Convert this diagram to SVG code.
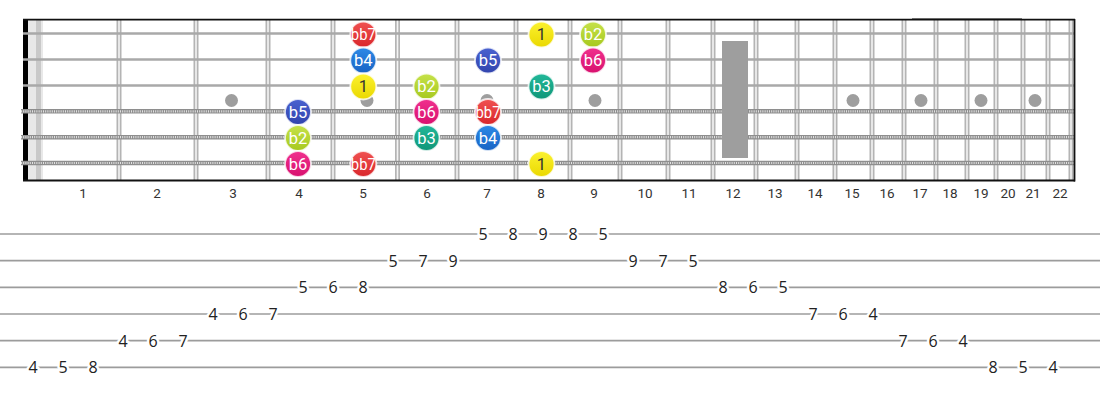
<svg xmlns="http://www.w3.org/2000/svg" width="1100" height="400" viewBox="0 0 1100 400">
<defs>
<style>
.fo{stroke:#b4b4b4;stroke-width:5}
.fi{stroke:#f4f4f4;stroke-width:1.6}
.ps{stroke:#a9a9a9;stroke-width:2.6}
.wb{stroke:#8e8e8e;stroke-width:4.6}
.wt{stroke:#e2e2e2;stroke-width:2.2;stroke-dasharray:1 1.2}
.inlay{fill:#9e9e9e}
.fn{font-family:Roboto,"Liberation Sans",sans-serif;font-size:13.5px;fill:#333;text-anchor:middle}
.tl{stroke:#9c9c9c;stroke-width:1.7}
.td{font-family:"Open Sans","Liberation Sans",sans-serif;font-size:16px;fill:#222;text-anchor:middle;stroke:#fff;stroke-width:5;paint-order:stroke;stroke-linejoin:round}
.nc{stroke:#ffffff;stroke-opacity:0.8;stroke-width:1.8}
.nt{font-family:Roboto,"Liberation Sans",sans-serif;font-size:16.5px;fill:#fff;text-anchor:middle}
.dk{fill:#333}
.r7{fill:url(#gR)} .bl{fill:url(#gB)} .in{fill:url(#gI)} .ye{fill:url(#gY)} .li{fill:url(#gL)} .pk{fill:url(#gP)} .te{fill:url(#gT)}
</style>
<linearGradient id="gR" x1="0" y1="0" x2="0" y2="1"><stop offset="0" stop-color="#f05252"/><stop offset="1" stop-color="#d9262b"/></linearGradient>
<linearGradient id="gB" x1="0" y1="0" x2="0" y2="1"><stop offset="0" stop-color="#2d8ae6"/><stop offset="1" stop-color="#1863c4"/></linearGradient>
<linearGradient id="gI" x1="0" y1="0" x2="0" y2="1"><stop offset="0" stop-color="#4a62d0"/><stop offset="1" stop-color="#3144ad"/></linearGradient>
<linearGradient id="gY" x1="0" y1="0" x2="0" y2="1"><stop offset="0" stop-color="#fbf230"/><stop offset="1" stop-color="#ead800"/></linearGradient>
<linearGradient id="gL" x1="0" y1="0" x2="0" y2="1"><stop offset="0" stop-color="#c6e24a"/><stop offset="1" stop-color="#a6c81e"/></linearGradient>
<linearGradient id="gP" x1="0" y1="0" x2="0" y2="1"><stop offset="0" stop-color="#f0308e"/><stop offset="1" stop-color="#d8106e"/></linearGradient>
<linearGradient id="gT" x1="0" y1="0" x2="0" y2="1"><stop offset="0" stop-color="#22b899"/><stop offset="1" stop-color="#0f9678"/></linearGradient>
</defs>
<rect width="1100" height="400" fill="#fff"/>
<g id="fretboard">
<rect x="28" y="20" width="15" height="161" fill="#e8e8e8"/>
<rect x="36" y="20" width="5" height="161" fill="#c9c9c9"/>
<rect x="23" y="20" width="5" height="161" fill="#000"/>
<g id="frets">
<line class="fo" x1="119" y1="20" x2="119" y2="180"/><line class="fi" x1="119" y1="20" x2="119" y2="180"/>
<line class="fo" x1="196" y1="20" x2="196" y2="180"/><line class="fi" x1="196" y1="20" x2="196" y2="180"/>
<line class="fo" x1="268" y1="20" x2="268" y2="180"/><line class="fi" x1="268" y1="20" x2="268" y2="180"/>
<line class="fo" x1="333" y1="20" x2="333" y2="180"/><line class="fi" x1="333" y1="20" x2="333" y2="180"/>
<line class="fo" x1="397.5" y1="20" x2="397.5" y2="180"/><line class="fi" x1="397.5" y1="20" x2="397.5" y2="180"/>
<line class="fo" x1="457" y1="20" x2="457" y2="180"/><line class="fi" x1="457" y1="20" x2="457" y2="180"/>
<line class="fo" x1="516" y1="20" x2="516" y2="180"/><line class="fi" x1="516" y1="20" x2="516" y2="180"/>
<line class="fo" x1="570" y1="20" x2="570" y2="180"/><line class="fi" x1="570" y1="20" x2="570" y2="180"/>
<line class="fo" x1="620" y1="20" x2="620" y2="180"/><line class="fi" x1="620" y1="20" x2="620" y2="180"/>
<line class="fo" x1="668" y1="20" x2="668" y2="180"/><line class="fi" x1="668" y1="20" x2="668" y2="180"/>
<line class="fo" x1="713" y1="20" x2="713" y2="180"/><line class="fi" x1="713" y1="20" x2="713" y2="180"/>
<line class="fo" x1="756" y1="20" x2="756" y2="180"/><line class="fi" x1="756" y1="20" x2="756" y2="180"/>
<line class="fo" x1="797" y1="20" x2="797" y2="180"/><line class="fi" x1="797" y1="20" x2="797" y2="180"/>
<line class="fo" x1="835" y1="20" x2="835" y2="180"/><line class="fi" x1="835" y1="20" x2="835" y2="180"/>
<line class="fo" x1="872" y1="20" x2="872" y2="180"/><line class="fi" x1="872" y1="20" x2="872" y2="180"/>
<line class="fo" x1="904" y1="20" x2="904" y2="180"/><line class="fi" x1="904" y1="20" x2="904" y2="180"/>
<line class="fo" x1="936" y1="20" x2="936" y2="180"/><line class="fi" x1="936" y1="20" x2="936" y2="180"/>
<line class="fo" x1="967" y1="20" x2="967" y2="180"/><line class="fi" x1="967" y1="20" x2="967" y2="180"/>
<line class="fo" x1="996" y1="20" x2="996" y2="180"/><line class="fi" x1="996" y1="20" x2="996" y2="180"/>
<line class="fo" x1="1023" y1="20" x2="1023" y2="180"/><line class="fi" x1="1023" y1="20" x2="1023" y2="180"/>
<line class="fo" x1="1048" y1="20" x2="1048" y2="180"/><line class="fi" x1="1048" y1="20" x2="1048" y2="180"/>
<line class="fo" x1="1071" y1="20" x2="1071" y2="180"/><line class="fi" x1="1071" y1="20" x2="1071" y2="180"/>
</g>
<g id="strings">
<line class="ps" x1="23" y1="33.5" x2="1074" y2="33.5"/>
<line class="ps" x1="23" y1="59.5" x2="1074" y2="59.5"/>
<line class="ps" x1="23" y1="85.5" x2="1074" y2="85.5"/>
<line class="wb" x1="21" y1="111.3" x2="1074" y2="111.3"/><line class="wt" x1="21" y1="111.3" x2="1074" y2="111.3"/>
<line class="wb" x1="21" y1="137.2" x2="1074" y2="137.2"/><line class="wt" x1="21" y1="137.2" x2="1074" y2="137.2"/>
<line class="wb" x1="21" y1="163" x2="1074" y2="163"/><line class="wt" x1="21" y1="163" x2="1074" y2="163"/>
</g>
<g id="inlays">
<circle class="inlay" cx="231.5" cy="100.5" r="6.5"/>
<circle class="inlay" cx="367" cy="100.5" r="6.5"/>
<circle class="inlay" cx="487" cy="100.5" r="6.5"/>
<circle class="inlay" cx="595" cy="100.5" r="6.5"/>
<rect class="inlay" x="722" y="41" width="26" height="117"/>
<circle class="inlay" cx="853" cy="100.5" r="6.5"/>
<circle class="inlay" cx="921" cy="100.5" r="6.5"/>
<circle class="inlay" cx="981" cy="100.5" r="6.5"/>
<circle class="inlay" cx="1035" cy="100.5" r="6.5"/>
</g>
<line x1="23" y1="19.6" x2="1075" y2="19.6" stroke="#111" stroke-width="1.6"/>
<line x1="912" y1="19" x2="1022" y2="19" stroke="#111" stroke-width="1"/>
<line x1="23" y1="180.6" x2="1075" y2="180.6" stroke="#111" stroke-width="2"/>
<line x1="1074.5" y1="19" x2="1074.5" y2="181.5" stroke="#111" stroke-width="1.8"/>
</g>
<g id="fret-numbers">
<text class="fn" x="83" y="197.5">1</text>
<text class="fn" x="157" y="197.5">2</text>
<text class="fn" x="233" y="197.5">3</text>
<text class="fn" x="299" y="197.5">4</text>
<text class="fn" x="363" y="197.5">5</text>
<text class="fn" x="427" y="197.5">6</text>
<text class="fn" x="487" y="197.5">7</text>
<text class="fn" x="541" y="197.5">8</text>
<text class="fn" x="594" y="197.5">9</text>
<text class="fn" x="645" y="197.5">10</text>
<text class="fn" x="689" y="197.5">11</text>
<text class="fn" x="733" y="197.5">12</text>
<text class="fn" x="775" y="197.5">13</text>
<text class="fn" x="815" y="197.5">14</text>
<text class="fn" x="852" y="197.5">15</text>
<text class="fn" x="887" y="197.5">16</text>
<text class="fn" x="920" y="197.5">17</text>
<text class="fn" x="950" y="197.5">18</text>
<text class="fn" x="981" y="197.5">19</text>
<text class="fn" x="1008" y="197.5">20</text>
<text class="fn" x="1033" y="197.5">21</text>
<text class="fn" x="1060" y="197.5">22</text>
</g>
<g id="notes">
<g id="n1"><circle class="nc r7" cx="363.3" cy="34.5" r="13"/><text class="nt" x="363.3" y="40.3" textLength="25" lengthAdjust="spacingAndGlyphs">bb7</text></g>
<g id="n2"><circle class="nc ye" cx="541.5" cy="34.5" r="13"/><text class="nt dk" x="541.5" y="40.3">1</text></g>
<g id="n3"><circle class="nc li" cx="593" cy="34.5" r="13"/><text class="nt" x="593" y="40.3">b2</text></g>
<g id="n4"><circle class="nc bl" cx="363.3" cy="60.5" r="13"/><text class="nt" x="363.3" y="66.3">b4</text></g>
<g id="n5"><circle class="nc in" cx="488" cy="60.5" r="13"/><text class="nt" x="488" y="66.3">b5</text></g>
<g id="n6"><circle class="nc pk" cx="593" cy="60.5" r="13"/><text class="nt" x="593" y="66.3">b6</text></g>
<g id="n7"><circle class="nc ye" cx="363.3" cy="86.5" r="13"/><text class="nt dk" x="363.3" y="92.3">1</text></g>
<g id="n8"><circle class="nc li" cx="426.5" cy="86.5" r="13"/><text class="nt" x="426.5" y="92.3">b2</text></g>
<g id="n9"><circle class="nc te" cx="541.5" cy="86.5" r="13"/><text class="nt" x="541.5" y="92.3">b3</text></g>
<g id="n10"><circle class="nc in" cx="298" cy="112" r="13"/><text class="nt" x="298" y="117.8">b5</text></g>
<g id="n11"><circle class="nc pk" cx="426.5" cy="112" r="13"/><text class="nt" x="426.5" y="117.8">b6</text></g>
<g id="n12"><circle class="nc r7" cx="488" cy="112" r="13"/><text class="nt" x="488" y="117.8" textLength="25" lengthAdjust="spacingAndGlyphs">bb7</text></g>
<g id="n13"><circle class="nc li" cx="298" cy="138" r="13"/><text class="nt" x="298" y="143.8">b2</text></g>
<g id="n14"><circle class="nc te" cx="426.5" cy="138" r="13"/><text class="nt" x="426.5" y="143.8">b3</text></g>
<g id="n15"><circle class="nc bl" cx="488" cy="138" r="13"/><text class="nt" x="488" y="143.8">b4</text></g>
<g id="n16"><circle class="nc pk" cx="298" cy="164" r="13"/><text class="nt" x="298" y="169.8">b6</text></g>
<g id="n17"><circle class="nc r7" cx="363.3" cy="164" r="13"/><text class="nt" x="363.3" y="169.8" textLength="25" lengthAdjust="spacingAndGlyphs">bb7</text></g>
<g id="n18"><circle class="nc ye" cx="541.5" cy="164" r="13"/><text class="nt dk" x="541.5" y="169.8">1</text></g>
</g>
<g id="tab">
<line class="tl" x1="0" y1="234" x2="1100" y2="234"/>
<line class="tl" x1="0" y1="260.7" x2="1100" y2="260.7"/>
<line class="tl" x1="0" y1="287.3" x2="1100" y2="287.3"/>
<line class="tl" x1="0" y1="314" x2="1100" y2="314"/>
<line class="tl" x1="0" y1="340.7" x2="1100" y2="340.7"/>
<line class="tl" x1="0" y1="367.3" x2="1100" y2="367.3"/>
<text class="td" x="483" y="239.8">5</text><text class="td" x="513" y="239.8">8</text><text class="td" x="543" y="239.8">9</text><text class="td" x="573" y="239.8">8</text><text class="td" x="603" y="239.8">5</text>
<text class="td" x="393" y="266.5">5</text><text class="td" x="423" y="266.5">7</text><text class="td" x="453" y="266.5">9</text><text class="td" x="633" y="266.5">9</text><text class="td" x="663" y="266.5">7</text><text class="td" x="693" y="266.5">5</text>
<text class="td" x="303" y="293.1">5</text><text class="td" x="333" y="293.1">6</text><text class="td" x="363" y="293.1">8</text><text class="td" x="723" y="293.1">8</text><text class="td" x="753" y="293.1">6</text><text class="td" x="783" y="293.1">5</text>
<text class="td" x="213" y="319.8">4</text><text class="td" x="243" y="319.8">6</text><text class="td" x="273" y="319.8">7</text><text class="td" x="813" y="319.8">7</text><text class="td" x="843" y="319.8">6</text><text class="td" x="873" y="319.8">4</text>
<text class="td" x="123" y="346.5">4</text><text class="td" x="153" y="346.5">6</text><text class="td" x="183" y="346.5">7</text><text class="td" x="903" y="346.5">7</text><text class="td" x="933" y="346.5">6</text><text class="td" x="963" y="346.5">4</text>
<text class="td" x="33" y="373.1">4</text><text class="td" x="63" y="373.1">5</text><text class="td" x="93" y="373.1">8</text><text class="td" x="993" y="373.1">8</text><text class="td" x="1023" y="373.1">5</text><text class="td" x="1053" y="373.1">4</text>
</g>
</svg>
